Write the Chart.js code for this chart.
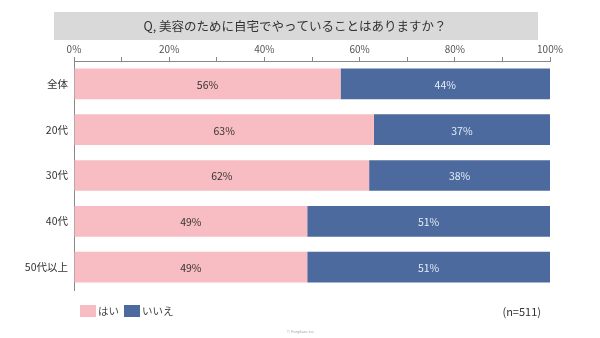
<!DOCTYPE html>
<html>
<head>
<meta charset="utf-8">
<title>美容のために自宅でやっていること</title>
<script src="https://cdn.jsdelivr.net/npm/chart.js"></script>
<style>
    html, body { margin: 0; padding: 0; background: #fff; }
    #wrap { position: relative; width: 600px; height: 338px; }
</style>
</head>
<body>
<div id="wrap"><canvas id="beautyChart" width="600" height="338"></canvas></div>
<script>
    // survey data
    var categories = ['全体', '20代', '30代', '40代', '50代以上'];
    var yesValues = [56, 63, 62, 49, 49];
    var noValues = [44, 37, 38, 51, 51];
    var seriesNames = ['はい', 'いいえ'];
    var tickLabels = ['0%', '20%', '40%', '60%', '80%', '100%'];
    var titleText = 'Q, 美容のために自宅でやっていることはありますか？';
    var sampleNote = '(n=511)';
    var creditText = '© Fanplaza inc.';

    var pink = '#f8bdc2';
    var blue = '#4c6a9d';
    var jpFont = '"Noto Sans CJK JP", "Noto Sans", sans-serif';

    // gray title band, legend, note and credit
    var decorPlugin = {
        id: 'decor',
        beforeDraw: function(chart) {
            var ctx = chart.ctx;
            ctx.save();
            ctx.fillStyle = '#d9d9d9';
            ctx.fillRect(54, 12, 484, 28);
            ctx.fillStyle = '#333';
            ctx.font = '12.5px ' + jpFont;
            ctx.textAlign = 'center';
            ctx.textBaseline = 'middle';
            ctx.fillText(titleText, 295, 26);
            ctx.restore();
        },
        afterDraw: function(chart) {
            var ctx = chart.ctx;
            ctx.save();
            ctx.font = '10.5px ' + jpFont;
            ctx.textBaseline = 'middle';
            var x = 80;
            chart.data.datasets.forEach(function(ds) {
                ctx.fillStyle = ds.backgroundColor;
                ctx.fillRect(x, 305, 16, 12);
                ctx.fillStyle = '#444';
                ctx.textAlign = 'left';
                ctx.fillText(ds.label, x + 18, 311);
                x += 18 + ctx.measureText(ds.label).width + 5;
            });
            ctx.fillStyle = '#333';
            ctx.textAlign = 'right';
            ctx.font = '11px ' + jpFont;
            ctx.fillText(sampleNote, 541, 312);
            ctx.fillStyle = '#aaa';
            ctx.textAlign = 'center';
            ctx.font = '4px sans-serif';
            ctx.fillText(creditText, 301, 332);
            ctx.restore();
        }
    };

    // percentage labels in the middle of every bar segment
    var valueLabels = {
        id: 'valueLabels',
        afterDatasetsDraw: function(chart) {
            var ctx = chart.ctx;
            ctx.save();
            ctx.font = '10.5px ' + jpFont;
            ctx.textAlign = 'center';
            ctx.textBaseline = 'middle';
            chart.data.datasets.forEach(function(ds, i) {
                ctx.fillStyle = i === 0 ? '#333' : '#e6ecf7';
                chart.getDatasetMeta(i).data.forEach(function(bar, j) {
                    var p = bar.getCenterPoint();
                    ctx.fillText(ds.data[j] + '%', p.x, p.y + 1);
                });
            });
            ctx.restore();
        }
    };

    var ctx = document.getElementById('beautyChart').getContext('2d');
    var chart = new Chart(ctx, {
        type: 'bar',
        data: {
            labels: categories,
            datasets: [
                { label: seriesNames[0], data: yesValues, backgroundColor: pink },
                { label: seriesNames[1], data: noValues, backgroundColor: blue }
            ]
        },
        options: {
            indexAxis: 'y',
            responsive: false,
            animation: false,
            layout: { padding: { top: 0, right: 50, bottom: 48, left: 0 } },
            datasets: {
                bar: { categoryPercentage: 1, barPercentage: 0.67, borderWidth: 0 }
            },
            plugins: {
                legend: { display: false },
                tooltip: { enabled: false }
            },
            scales: {
                x: {
                    position: 'top',
                    stacked: true,
                    min: 0,
                    max: 100,
                    afterFit: function(s) { s.height = 61; },
                    grid: { drawOnChartArea: false, tickLength: 4, color: '#888' },
                    border: { display: true, color: '#888' },
                    ticks: {
                        stepSize: 10,
                        maxRotation: 0,
                        autoSkip: false,
                        padding: 2,
                        color: '#555',
                        font: { size: 10, family: jpFont },
                        callback: function(v) {
                            return v % 20 === 0 ? tickLabels[v / 20] : '';
                        }
                    }
                },
                y: {
                    stacked: true,
                    afterFit: function(s) { s.width = 74; },
                    grid: { display: false, drawTicks: false },
                    border: { display: true, color: '#888' },
                    ticks: {
                        padding: 6,
                        color: '#333',
                        font: { size: 10.5, family: jpFont }
                    }
                }
            }
        },
        plugins: [decorPlugin, valueLabels]
    });
</script>
</body>
</html>
